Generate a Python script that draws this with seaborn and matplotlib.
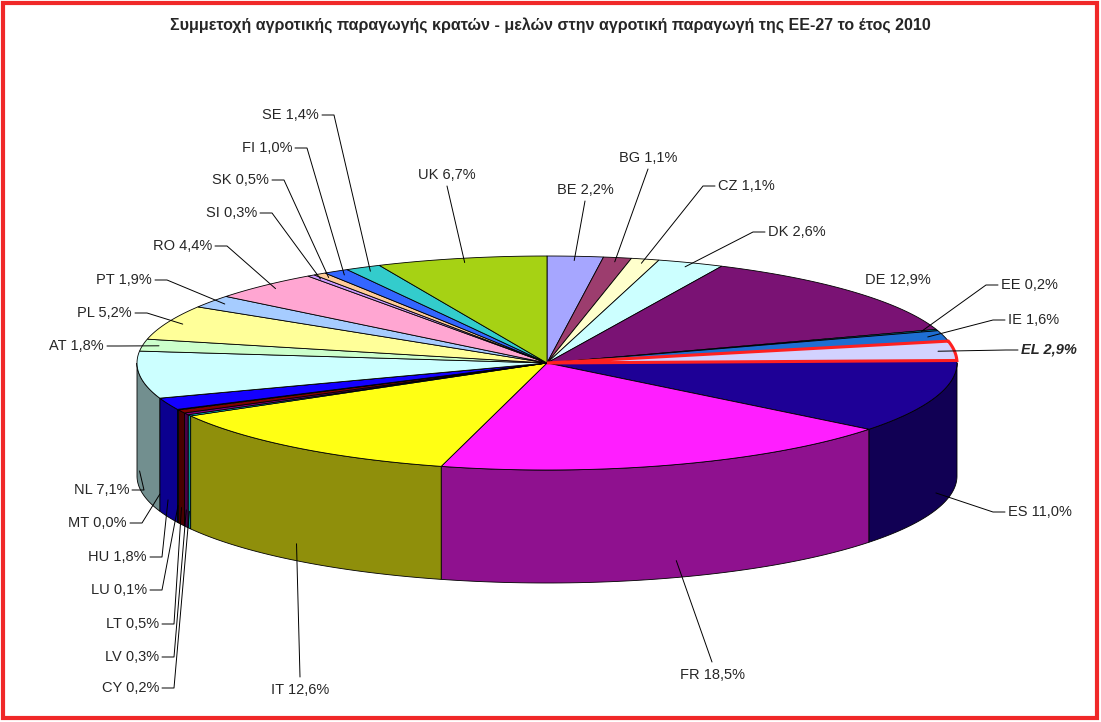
import numpy as np
import matplotlib.pyplot as plt
import seaborn as sns
from matplotlib.patches import Polygon, Rectangle

sns.set_theme(style="white")
plt.rcParams['font.family'] = ['Liberation Sans', 'DejaVu Sans']

# ------------------------------------------------------------
# Data (clockwise from 12 o'clock)
# ------------------------------------------------------------
countries = ['BE', 'BG', 'CZ', 'DK', 'DE', 'EE', 'IE', 'EL', 'ES', 'FR', 'IT',
             'CY', 'LV', 'LT', 'LU', 'HU', 'MT', 'NL', 'AT', 'PL', 'PT', 'RO',
             'SI', 'SK', 'FI', 'SE', 'UK']
shares = [2.2, 1.1, 1.1, 2.6, 12.9, 0.2, 1.6, 2.9, 11.0, 18.5, 12.6,
          0.2, 0.3, 0.5, 0.1, 1.8, 0.0, 7.1, 1.8, 5.2, 1.9, 4.4,
          0.3, 0.5, 1.0, 1.4, 6.7]
colors = ['#A6A6FF', '#9C3D6E', '#FFFFCC', '#CCFFFF', '#7A1274', '#00A0C0',
          '#1E6ED2', '#D2D2FF', '#1E0096', '#FF1EFF', '#FFFF14',
          '#00FFFF', '#800080', '#800000', '#008080', '#1400FF', '#00CCFF',
          '#CCFFFF', '#CCFFCC', '#FFFF99', '#A6CCFF', '#FFA6D2',
          '#CC99FF', '#FFCC99', '#3366FF', '#33CCCC', '#A6D214']

# label attach points and styles (layout only)
label_pos = {
    'BE': (585, 190, 'c'), 'BG': (648, 158, 'c'), 'CZ': (715, 186, 'l'),
    'DK': (765, 232, 'l'), 'DE': (865, 280, 'n'), 'EE': (998, 285, 'l'),
    'IE': (1005, 320, 'l'), 'EL': (1018, 350, 'l'), 'ES': (1005, 512, 'l'),
    'FR': (712, 675, 'c'), 'IT': (300, 690, 'c'),
    'CY': (162, 688, 'r'), 'LV': (162, 657, 'r'), 'LT': (162, 624, 'r'),
    'LU': (150, 590, 'r'), 'HU': (150, 557, 'r'), 'MT': (130, 523, 'r'),
    'NL': (132, 490, 'r'), 'AT': (107, 346, 'r'), 'PL': (135, 313, 'r'),
    'PT': (155, 280, 'r'), 'RO': (215, 246, 'r'), 'SI': (260, 213, 'r'),
    'SK': (272, 180, 'r'), 'FI': (295, 148, 'r'), 'SE': (322, 115, 'r'),
    'UK': (447, 175, 'c'),
}

# pie geometry in pixel space
cx, cy, rx, ry, depth = 547, 363, 410, 107, 113

fig = plt.figure(figsize=(11.01, 7.22), dpi=100)
ax = fig.add_axes([0, 0, 1, 1])
ax.set_xlim(0, 1101)
ax.set_ylim(722, 0)
ax.axis('off')


def pt(phi, dy=0.0, k=1.0):
    r = np.radians(phi)
    return cx + k * rx * np.cos(r), cy - k * ry * np.sin(r) + dy


def darker(c, f=0.56):
    rgb = np.array(plt.matplotlib.colors.to_rgb(c))
    return tuple(rgb * f)


total = sum(shares)
cum = np.concatenate([[0], np.cumsum(shares)])
starts = 90 - 360 * cum[1:] / total
ends = 90 - 360 * cum[:-1] / total

# sides (front half only: phi in [-180, 0])
for a, b, col in zip(starts, ends, colors):
    lo, hi = max(a, -180), min(b, 0)
    if hi <= lo:
        continue
    ph = np.linspace(lo, hi, 60)
    top = [pt(p) for p in ph]
    bot = [pt(p, depth) for p in ph[::-1]]
    ax.add_patch(Polygon(top + bot, closed=True, facecolor=darker(col),
                         edgecolor='black', linewidth=0.6))

# top face
for name, a, b, col in zip(countries, starts, ends, colors):
    ph = np.linspace(a, b, max(int((b - a) * 2), 2))
    verts = [(cx, cy)] + [pt(p) for p in ph]
    if name == 'EL':
        ax.add_patch(Polygon(verts, closed=True, facecolor=col,
                             edgecolor='#FF2020', linewidth=2.2, zorder=3))
    else:
        ax.add_patch(Polygon(verts, closed=True, facecolor=col,
                             edgecolor='black', linewidth=0.6, zorder=2))

# labels with leader lines
for name, val, a, b in zip(countries, shares, starts, ends):
    x, y, st = label_pos[name]
    mid = (a + b) / 2
    if np.sin(np.radians(mid)) < 0:
        ax_, ay_ = pt(mid, depth * 0.85)
    else:
        ax_, ay_ = pt(mid, 0, 0.96)
    txt = f'{name} {val:.1f}%'.replace('.', ',')
    kw = dict(fontsize=10.5, va='center', zorder=5)
    if name == 'EL':
        kw.update(fontweight='bold', fontstyle='italic')
    if st == 'r':
        ax.text(x - 3, y, txt, ha='right', **kw)
        ax.plot([x, x + 12, ax_], [y, y, ay_], color='black', lw=0.7, zorder=4)
    elif st == 'l':
        ax.text(x + 3, y, txt, ha='left', **kw)
        ax.plot([x, x - 12, ax_], [y, y, ay_], color='black', lw=0.7, zorder=4)
    elif st == 'c':
        ax.text(x, y, txt, ha='center', **kw)
        sy = y - 13 if y > cy else y + 11
        ax.plot([x, ax_], [sy, ay_], color='black', lw=0.7, zorder=4)
    else:
        ax.text(x, y, txt, ha='left', **kw)

ax.text(550, 25, 'Συμμετοχή αγροτικής παραγωγής κρατών - μελών στην αγροτική παραγωγή της ΕΕ-27 το έτος 2010',
        ha='center', va='center', fontsize=11.5, fontweight='bold')

ax.add_patch(Rectangle((3, 3), 1094, 715, fill=False, edgecolor='#F02828', linewidth=3))

fig.savefig('out.png', dpi=100)
